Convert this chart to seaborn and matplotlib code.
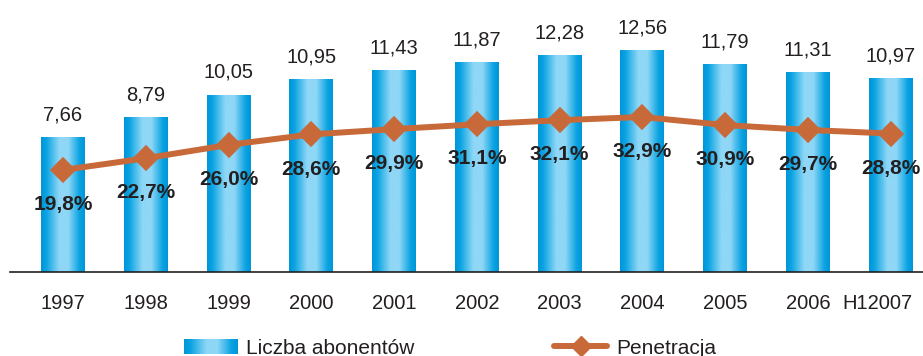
import numpy as np
import pandas as pd
import matplotlib
matplotlib.use("Agg")
import matplotlib.pyplot as plt
from matplotlib.patches import Patch
from matplotlib.lines import Line2D
from matplotlib.colors import LinearSegmentedColormap
from matplotlib.transforms import ScaledTranslation
import seaborn as sns

# dane
lata = ["1997", "1998", "1999", "2000", "2001", "2002", "2003", "2004", "2005", "2006", "H12007"]
abonenci = [7.66, 8.79, 10.05, 10.95, 11.43, 11.87, 12.28, 12.56, 11.79, 11.31, 10.97]
penetracja = [19.8, 22.7, 26.0, 28.6, 29.9, 31.1, 32.1, 32.9, 30.9, 29.7, 28.8]

df = pd.DataFrame({"rok": lata, "abonenci": abonenci, "penetracja": penetracja})

sns.set_style("white")
plt.rcParams["font.family"] = ["Liberation Sans", "DejaVu Sans"]

ciemny = "#231f20"
pomarancz = "#c8693a"
gradient = LinearSegmentedColormap.from_list(
    "walec",
    [(0.0, "#0096d8"), (0.12, "#0aa3e2"), (0.42, "#8fd7f6"), (0.62, "#8fd7f6"), (0.88, "#0aa3e2"), (1.0, "#0096d8")],
)

fig = plt.figure(figsize=(9.23, 3.56), dpi=100)
ax = fig.add_axes([10 / 923, 84 / 356, 913 / 923, 272 / 356])

sns.barplot(data=df, x="rok", y="abonenci", color="#1aaae6", width=0.53, ax=ax, saturation=1)

# gradient na slupkach
grad = np.linspace(0, 1, 256).reshape(1, -1)
for p in ax.patches:
    x0, w, h = p.get_x(), p.get_width(), p.get_height()
    im = ax.imshow(grad, cmap=gradient, extent=(x0, x0 + w, 0, h), aspect="auto", zorder=2)
    im.set_clip_path(p)

for i, v in enumerate(abonenci):
    ax.annotate(f"{v:.2f}".replace(".", ","), (i, v), xytext=(0, 12), textcoords="offset points",
                ha="center", va="baseline", fontsize=14.5, color=ciemny)

ax.set_xlim(-0.64, 10.39)
ax.set_ylim(0, 15.41)
ax.set_yticks([])
ax.set_xlabel("")
ax.set_ylabel("")
for s in ["top", "left", "right"]:
    ax.spines[s].set_visible(False)
ax.spines["bottom"].set_color(ciemny)
ax.spines["bottom"].set_linewidth(1.2)
ax.tick_params(axis="x", length=0, pad=16, labelsize=14.5, labelcolor=ciemny)

# ostatnia etykieta przesunieta w lewo, zeby sie zmiescila
ostatnia = ax.get_xticklabels()[-1]
ostatnia.set_transform(ostatnia.get_transform() + ScaledTranslation(-0.13, 0, fig.dpi_scale_trans))

ax2 = ax.twinx()
sns.pointplot(data=df, x="rok", y="penetracja", color=pomarancz, markers="D", ax=ax2,
              linewidth=4.3, markersize=10, errorbar=None)
for i, v in enumerate(penetracja):
    ax2.annotate(f"{v:.1f}%".replace(".", ","), (i, v), xytext=(0, -25), textcoords="offset points",
                 ha="center", va="center", fontsize=15, fontweight="bold", color=ciemny)
ax2.set_ylim(-5.4, 61.8)
ax2.set_xlim(-0.64, 10.39)
ax2.set_yticks([])
ax2.set_ylabel("")
ax2.set_xlabel("")
for s in ax2.spines.values():
    s.set_visible(False)

uchwyty = [
    Patch(facecolor="#1aaae6", edgecolor="none"),
    Line2D([], [], color=pomarancz, lw=4.3, marker="D", markersize=10),
]
leg = fig.legend(uchwyty, ["Liczba abonentów", "Penetracja"], loc="center", bbox_to_anchor=(0.4875, 0.022),
                 ncol=2, frameon=False, fontsize=15, handlelength=2.55, handleheight=0.7,
                 handletextpad=0.43, columnspacing=6.7, labelcolor=ciemny)

fig.canvas.draw()
lpatch = leg.get_patches()[0]
bb = lpatch.get_window_extent().transformed(fig.transFigure.inverted())
lpatch.set_alpha(0)
lax = fig.add_axes([bb.x0, bb.y0, bb.width, bb.height], zorder=10)
lax.imshow(grad, cmap=gradient, aspect="auto")
lax.axis("off")

fig.savefig("out.png", dpi=100)
